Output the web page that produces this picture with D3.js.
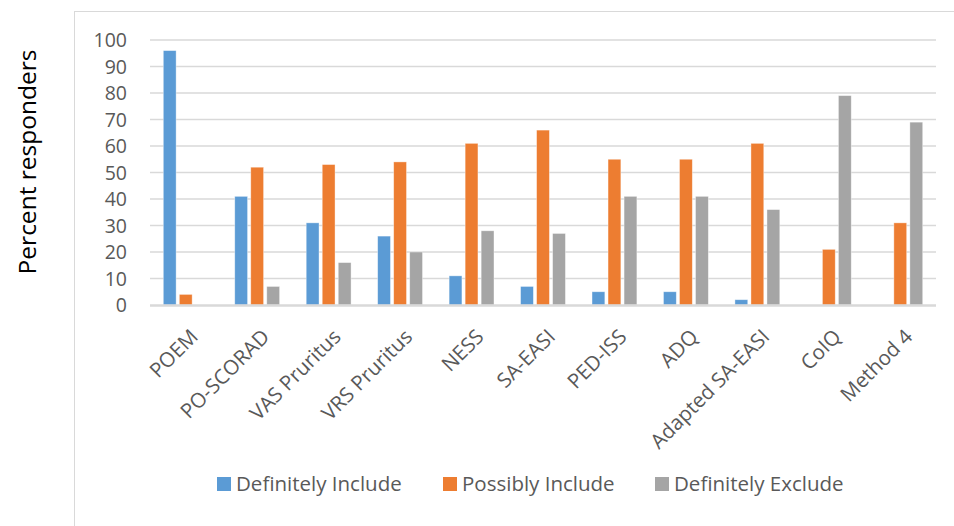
<!DOCTYPE html>
<html><head><meta charset="utf-8">
<script src="https://cdn.jsdelivr.net/npm/d3@7"></script>
<style>body{margin:0;background:#fff}svg{display:block}text{font-family:"Open Sans",Lato,sans-serif}</style>
</head><body>
<svg id="c" width="954" height="526"></svg>
<script>
const categories = ["POEM","PO-SCORAD","VAS Pruritus","VRS Pruritus","NESS","SA-EASI","PED-ISS","ADQ","Adapted SA-EASI","CoIQ","Method 4"];
const seriesNames = ["Definitely Include","Possibly Include","Definitely Exclude"];
const definitelyInclude = [96,41,31,26,11,7,5,5,2,0,0];
const possiblyInclude = [4,52,53,54,61,66,55,55,61,21,31];
const definitelyExclude = [0,7,16,20,28,27,41,41,36,79,69];
const yTicks = [0,10,20,30,40,50,60,70,80,90,100];
const colors = ["#5b9bd5","#ed7d31","#a5a5a5"];
const seriesValues = [definitelyInclude, possiblyInclude, definitelyExclude];

const svg = d3.select("#c");
// outer frame
svg.append("rect").attr("x",74.5).attr("y",11.5).attr("width",900).attr("height",600)
  .attr("fill","none").attr("stroke","#d9d9d9").attr("stroke-width",1);

const x0 = d3.scaleBand().domain(categories).range([150,936]).paddingInner(0).paddingOuter(0);
const x1 = d3.scaleBand().domain(seriesNames).range([0,x0.bandwidth()]).paddingInner(0.2).paddingOuter(0.83);
const y = d3.scaleLinear().domain([0,100]).range([305,40]);

// gridlines
svg.append("g").selectAll("line").data(yTicks.filter(t=>t>0)).join("line")
  .attr("x1",150).attr("x2",936).attr("y1",d=>y(d)).attr("y2",d=>y(d))
  .attr("stroke","#d9d9d9").attr("stroke-width",1.5);

// y tick labels
svg.append("g").selectAll("text").data(yTicks).join("text")
  .attr("x",127).attr("y",d=>y(d)).attr("dy","0.36em").attr("text-anchor","end")
  .attr("font-size",19.5).attr("fill","#595959").text(d=>d);

// bars
const groups = svg.append("g").selectAll("g").data(categories).join("g")
  .attr("transform",d=>`translate(${x0(d)},0)`);
groups.selectAll("rect").data((d,i)=>seriesNames.map((s,j)=>({s,v:seriesValues[j][i],c:colors[j]})))
  .join("rect")
  .attr("x",d=>x1(d.s)).attr("width",x1.bandwidth())
  .attr("y",d=>y(d.v)).attr("height",d=>y(0)-y(d.v))
  .attr("fill",d=>d.c).attr("stroke","#fff").attr("stroke-opacity",0.5).attr("stroke-width",0.75);

// x axis line
svg.append("line").attr("x1",150).attr("x2",936).attr("y1",305.5).attr("y2",305.5)
  .attr("stroke","#d9d9d9").attr("stroke-width",2.5);

// x labels
svg.append("g").selectAll("text").data(categories).join("text")
  .attr("transform",d=>`translate(${x0(d)+x0.bandwidth()/2+13.5},${338}) rotate(-45)`)
  .attr("text-anchor","end")
  .attr("font-size",20.5).attr("fill","#595959").text(d=>d);

// y title
svg.append("text").attr("transform","translate(27,162) rotate(-90)")
  .attr("text-anchor","middle").attr("dy","0.36em").attr("font-size",24.5).attr("fill","#000")
  .text("Percent responders");

// legend
const legendX = [217,443,655];
const lg = svg.append("g").selectAll("g").data(seriesNames).join("g")
  .attr("transform",(d,i)=>`translate(${legendX[i]},477)`);
lg.append("rect").attr("width",14).attr("height",14).attr("fill",(d,i)=>colors[i]);
lg.append("text").attr("x",19).attr("y",7).attr("dy","0.36em").attr("font-size",20.5)
  .attr("fill","#595959").text(d=>d);
</script>
</body></html>
